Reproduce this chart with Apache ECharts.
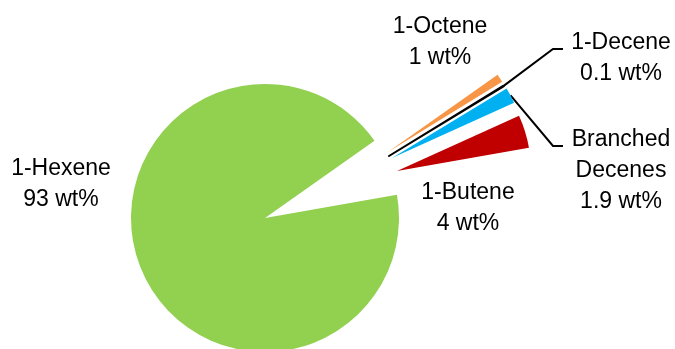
<!DOCTYPE html>
<html>
<head>
<meta charset="utf-8">
<script src="https://cdn.jsdelivr.net/npm/echarts@6/dist/echarts.min.js"></script>
<style>
  html, body { margin: 0; padding: 0; background: #fff; }
  #chart { width: 675px; height: 349px; }
</style>
</head>
<body>
<div id="chart"></div>
<script>
// Product distribution of the oligomerisation (wt%)
const names  = ['1-Hexene', '1-Octene', '1-Decene', 'Branched Decenes', '1-Butene'];
const values = [93, 1, 0.1, 1.9, 4];
const labels = ['1-Hexene\n93 wt%', '1-Octene\n1 wt%', '1-Decene\n0.1 wt%', 'Branched\nDecenes\n1.9 wt%', '1-Butene\n4 wt%'];
const colors = ['#92D050', '#F79646', '#000000', '#00B0F0', '#C00000'];

// Every slice gets its own pie (same data, other slices transparent) so the
// minor products can be pulled out of the main pie one by one.
const pieCenters   = [[265, 218], [388, 152], [389, 156], [392, 158], [397, 171]];
const labelAnchors = [[61, 184], [440, 42], [621, 58], [621, 171], [468, 208]];
const leaderBends  = [null, null, [[553, 49], [563, 49]], [[553, 146], [563, 146]], null];

const chart = echarts.init(document.getElementById('chart'), null, { renderer: 'canvas' });

const series = names.map((_, k) => ({
  type: 'pie',
  center: pieCenters[k],
  radius: 134,
  startAngle: 10,
  clockwise: true,
  silent: true,
  animation: false,
  avoidLabelOverlap: false,
  label: {
    show: true,
    position: 'outside',
    formatter: p => labels[p.dataIndex],
    color: '#000',
    fontFamily: 'Liberation Sans',
    fontSize: 23,
    lineHeight: 31,
    align: 'center'
  },
  labelLine: {
    show: leaderBends[k] != null,
    lineStyle: { color: '#000', width: 2 }
  },
  labelLayout: p => {
    const out = {
      x: labelAnchors[k][0],
      y: labelAnchors[k][1],
      align: 'center',
      verticalAlign: 'middle'
    };
    if (leaderBends[k] && p.labelLinePoints && p.labelLinePoints.length) {
      out.labelLinePoints = [p.labelLinePoints[0]].concat(leaderBends[k]);
    }
    return out;
  },
  data: names.map((n, j) => ({
    name: n,
    value: values[j],
    itemStyle: j === k
      ? { color: colors[j], borderColor: '#000', borderWidth: n === '1-Decene' ? 2 : 0 }
      : { color: 'rgba(0,0,0,0)', borderWidth: 0 },
    label: { show: j === k },
    labelLine: { show: j === k && leaderBends[k] != null }
  }))
}));

chart.setOption({
  backgroundColor: '#fff',
  animation: false,
  series: series
});
</script>
</body>
</html>
